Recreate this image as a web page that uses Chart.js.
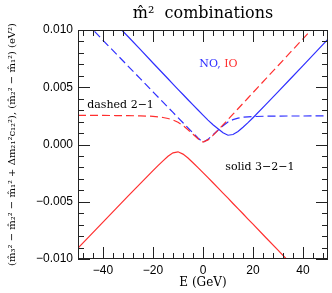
<!DOCTYPE html>
<html>
<head>
<meta charset="utf-8">
<script src="https://cdn.jsdelivr.net/npm/chart.js@4.4.1/dist/chart.umd.min.js"></script>
<style>
  html, body { margin: 0; padding: 0; background: #fff; }
  #wrap { width: 332px; height: 293px; position: relative; }
</style>
</head>
<body>
<div id="wrap"><canvas id="c"></canvas></div>
<script>
// energy grid (GeV)
const energies = [-50, -45, -40, -35, -30, -25, -20, -18, -16, -14, -12, -10, -8, -6, -4, -2,
  0, 2, 4, 6, 8, 10, 12, 14, 16, 18, 20, 25, 30, 35, 40, 45, 50];

// solid 3-2-1, NO (blue)
const solidNO = [0.0141, 0.0129, 0.01172, 0.01056, 0.00943, 0.00828, 0.00712, 0.00666, 0.0062,
  0.00574, 0.00528, 0.00482, 0.00437, 0.00391, 0.00346, 0.00301,
  0.00257, 0.00213, 0.00173, 0.00138, 0.00102, 0.00081, 0.00087, 0.00114, 0.00151, 0.00191,
  0.00234, 0.00346, 0.00459, 0.00574, 0.00689, 0.00804, 0.0092];

// solid 3-2-1, IO (red)
const solidIO = [-0.00905, -0.00791, -0.00678, -0.00565, -0.00451, -0.00339, -0.00228, -0.00184,
  -0.00143, -0.00103, -0.00073, -0.00064, -0.00084, -0.00118, -0.00159, -0.00202,
  -0.00245, -0.0029, -0.00334, -0.00379, -0.00424, -0.00469, -0.00515, -0.0056, -0.00605,
  -0.00651, -0.00696, -0.0081, -0.00923, -0.01037, -0.0115, -0.01264, -0.01378];

// dashed 2-1, NO (blue)
const dashedNO = [0.0114, 0.01025, 0.0091, 0.00798, 0.00685, 0.00573, 0.0046, 0.00415, 0.0037,
  0.00325, 0.0028, 0.00235, 0.0019, 0.00145, 0.001, 0.00058,
  0.00018, 0.00045, 0.00085, 0.00124, 0.00163, 0.00196, 0.00217, 0.0023, 0.00238, 0.00242,
  0.00244, 0.00247, 0.00248, 0.00249, 0.00249, 0.0025, 0.0025];

// dashed 2-1, IO (red)
const dashedIO = [0.00255, 0.00255, 0.00254, 0.00253, 0.00252, 0.0025, 0.00246, 0.00242, 0.00236,
  0.00227, 0.00214, 0.00194, 0.00166, 0.00129, 0.00089, 0.0005,
  0.00022, 0.0004, 0.0008, 0.00125, 0.00171, 0.00218, 0.00265, 0.00312, 0.00359, 0.00406,
  0.00453, 0.00571, 0.00688, 0.00806, 0.00923, 0.01041, 0.01158];

// ticks
const xMajor = [-40, -20, 0, 20, 40];
const xMinor = [-48, -44, -36, -32, -28, -24, -16, -12, -8, -4, 4, 8, 12, 16, 24, 28, 32, 36, 44, 48];
const yMajor = [-0.01, -0.005, 0, 0.005, 0.01];
const yMajorLabels = ['\u22120.010', '\u22120.005', '0.000', '0.005', '0.010'];
const yMinor = [-0.009, -0.008, -0.007, -0.006, -0.004, -0.003, -0.002, -0.001,
  0.001, 0.002, 0.003, 0.004, 0.006, 0.007, 0.008, 0.009];

const BLUE = '#2f2fff';
const RED = '#ff2f2f';
const SERIF = '"DejaVu Serif", serif';
const SANS = '"Liberation Sans", Arial, sans-serif';

const pts = (ys) => energies.map((e, i) => ({ x: e, y: ys[i] }));

// frame, inward ticks on all sides, title and text labels
const framePlugin = {
    id: 'frame',
    afterDatasetsDraw(chart) {
        const { ctx, chartArea: a, scales: { x, y } } = chart;
        ctx.save();
        ctx.strokeStyle = '#222';
        ctx.lineWidth = 1;
        ctx.strokeRect(a.left + 0.5, a.top + 0.5, a.right - a.left - 1, a.bottom - a.top - 1);
        ctx.beginPath();
        const tx = (v, len) => {
            const px = Math.round(x.getPixelForValue(v)) + 0.5;
            ctx.moveTo(px, a.bottom); ctx.lineTo(px, a.bottom - len);
            ctx.moveTo(px, a.top); ctx.lineTo(px, a.top + len);
        };
        const ty = (v, len) => {
            const py = Math.round(y.getPixelForValue(v)) + 0.5;
            ctx.moveTo(a.left, py); ctx.lineTo(a.left + len, py);
            ctx.moveTo(a.right, py); ctx.lineTo(a.right - len, py);
        };
        xMajor.forEach(v => tx(v, 12));
        xMinor.forEach(v => tx(v, 6));
        yMajor.forEach(v => ty(v, 12));
        yMinor.forEach(v => ty(v, 6));
        ctx.stroke();

        // title, centred over the plot area
        ctx.fillStyle = '#000';
        ctx.textAlign = 'center';
        ctx.textBaseline = 'middle';
        ctx.font = '16px ' + SERIF;
        ctx.fillText('m\u0302\u00b2  combinations', (a.left + a.right) / 2, 14);

        ctx.font = '11px ' + SERIF;
        ctx.textAlign = 'left';
        let px = x.getPixelForValue(-1.5), py = y.getPixelForValue(0.0070);
        ctx.fillStyle = BLUE;
        ctx.fillText('NO,', px, py);
        ctx.fillStyle = RED;
        ctx.fillText('IO', px + ctx.measureText('NO, ').width, py);
        ctx.fillStyle = '#000';
        ctx.fillText('dashed 2\u22121', x.getPixelForValue(-46.3), y.getPixelForValue(0.00345));
        ctx.fillText('solid 3\u22122\u22121', x.getPixelForValue(8.9), y.getPixelForValue(-0.00196));
        ctx.restore();
    }
};

new Chart(document.getElementById('c'), {
    type: 'line',
    data: {
        datasets: [
            { label: 'IO 3-2-1', data: pts(solidIO), borderColor: RED },
            { label: 'IO 2-1', data: pts(dashedIO), borderColor: RED, borderDash: [8, 4] },
            { label: 'NO 3-2-1', data: pts(solidNO), borderColor: BLUE },
            { label: 'NO 2-1', data: pts(dashedNO), borderColor: BLUE, borderDash: [8, 4] }
        ]
    },
    options: {
        responsive: true,
        maintainAspectRatio: false,
        animation: false,
        devicePixelRatio: 1,
        layout: { padding: { top: 30, right: 4, bottom: 0, left: 0 } },
        elements: {
            point: { radius: 0 },
            line: { borderWidth: 1.2, tension: 0, fill: false }
        },
        plugins: {
            legend: { display: false },
            tooltip: { enabled: false },
            title: { display: false }
        },
        scales: {
            x: {
                type: 'linear',
                min: -50, max: 50,
                grid: { display: false, drawTicks: false },
                border: { display: false },
                afterBuildTicks: (s) => { s.ticks = xMajor.map(v => ({ value: v })); },
                afterFit: (s) => { s.height = 34; },
                ticks: {
                    padding: 4,
                    color: '#000',
                    font: { family: SANS, size: 12 },
                    maxRotation: 0,
                    callback: (v) => (v < 0 ? '\u2212' + Math.abs(v) : String(v))
                },
                title: {
                    display: true,
                    text: 'E (GeV)',
                    color: '#000',
                    font: { family: SERIF, size: 12 },
                    padding: { top: 0, bottom: 3 }
                }
            },
            y: {
                type: 'linear',
                min: -0.01, max: 0.01,
                grid: { display: false, drawTicks: false },
                border: { display: false },
                afterBuildTicks: (s) => { s.ticks = yMajor.map(v => ({ value: v })); },
                afterFit: (s) => { s.width = 78; },
                ticks: {
                    padding: 5,
                    color: '#000',
                    font: { family: SANS, size: 12 },
                    callback: (v) => yMajorLabels[yMajor.findIndex(t => Math.abs(t - v) < 1e-9)]
                },
                title: {
                    display: true,
                    text: '(m\u0302\u2083\u00b2 \u2212 m\u0302\u2082\u00b2 \u2212 m\u0302\u2081\u00b2 + \u0394m\u2082\u2081\u00b2c\u2081\u2082\u00b2), (m\u0302\u2082\u00b2 \u2212 m\u0302\u2081\u00b2) (eV\u00b2)',
                    color: '#000',
                    font: { family: SERIF, size: 10 },
                    padding: { top: 6, bottom: 0 }
                }
            }
        }
    },
    plugins: [framePlugin]
});
</script>
</body>
</html>
